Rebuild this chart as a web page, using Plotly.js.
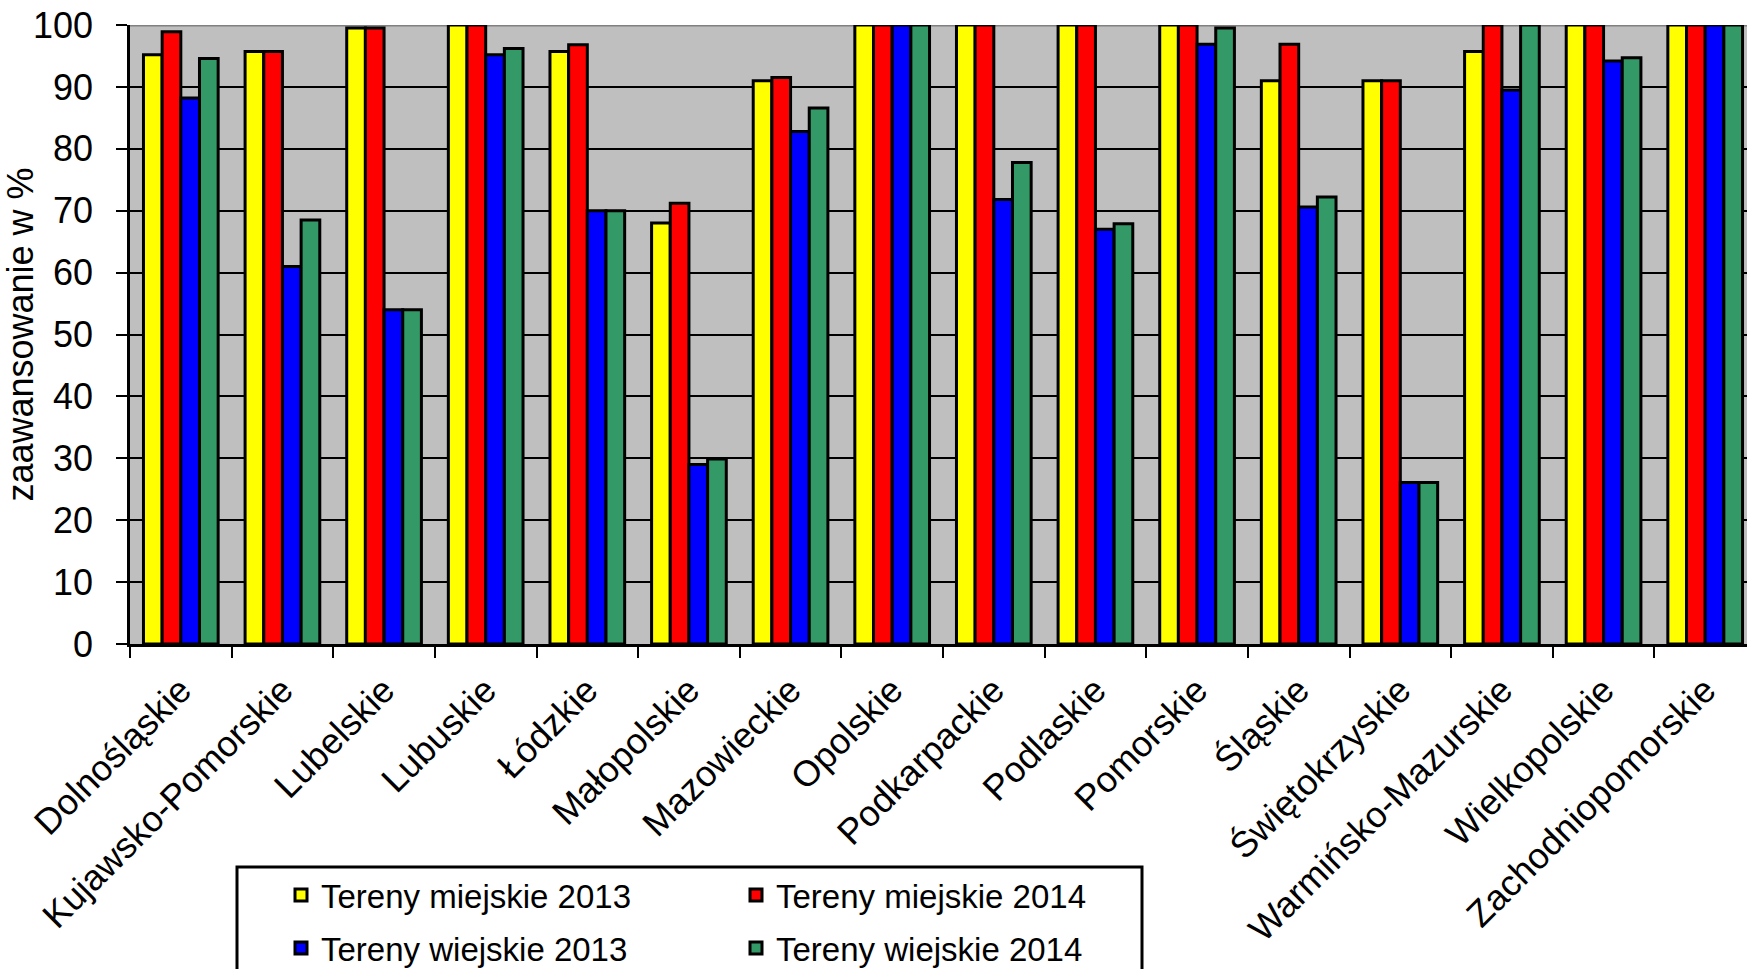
<!DOCTYPE html>
<html><head><meta charset="utf-8">
<script src="https://cdn.plot.ly/plotly-3.0.1.min.js"></script>
<style>html,body{margin:0;padding:0;overflow:hidden;background:#fff}#chart{width:1760px;height:969px}</style>
</head><body><div id="chart"></div>
<script>
const categories = ['Dolnośląskie','Kujawsko-Pomorskie','Lubelskie','Lubuskie','Łódzkie','Małopolskie','Mazowieckie','Opolskie','Podkarpackie','Podlaskie','Pomorskie','Śląskie','Świętokrzyskie','Warmińsko-Mazurskie','Wielkopolskie','Zachodniopomorskie'];
const miejskie2013 = [95.2, 95.7, 99.5, 100, 95.7, 68.0, 91.0, 100, 100, 100, 100, 91.0, 91.0, 95.7, 100, 100];
const miejskie2014 = [98.9, 95.7, 99.5, 100, 96.8, 71.2, 91.5, 100, 100, 100, 100, 96.9, 91.0, 100, 100, 100];
const wiejskie2013 = [88.2, 61.0, 54.0, 95.2, 70.0, 29.0, 82.8, 100, 71.8, 67.0, 96.9, 70.6, 26.1, 89.5, 94.2, 100];
const wiejskie2014 = [94.6, 68.5, 54.0, 96.2, 70.0, 29.9, 86.6, 100, 77.8, 67.9, 99.5, 72.2, 26.1, 100, 94.7, 100];
const seriesNames = ['Tereny miejskie 2013','Tereny miejskie 2014','Tereny wiejskie 2013','Tereny wiejskie 2014'];
const seriesColors = ['#FFFF00','#FF0000','#0000FF','#339966'];
const yTicks = [0,10,20,30,40,50,60,70,80,90,100];
const yTitle = 'zaawansowanie w %';

const FONT = 'Liberation Sans, Arial, sans-serif';
const W = 1760, H = 969;
const mL = 130, mR = 4, mT = 25, mB = 325;
const pw = W - mL - mR, ph = H - mT - mB;
const px2x = p => (p - mL) / pw;
const px2y = p => (H - mB - p) / ph;

const allSeries = [miejskie2013, miejskie2014, wiejskie2013, wiejskie2014];
const traces = allSeries.map((vals, i) => ({
  type: 'bar',
  x: categories,
  y: vals,
  name: seriesNames[i],
  legend: i < 2 ? 'legend' : 'legend2',
  marker: {color: seriesColors[i], line: {color: '#000', width: 3}},
  hoverinfo: 'x+y+name'
}));

const legendBase = {
  orientation: 'h', xanchor: 'left', yanchor: 'middle',
  entrywidth: 410, entrywidthmode: 'pixels',
  font: {family: FONT, size: 33, color: '#000'},
  bgcolor: 'rgba(0,0,0,0)', borderwidth: 0, traceorder: 'normal'
};

const layout = {
  width: W, height: H,
  margin: {l: mL, r: mR, t: mT, b: mB, autoexpand: false},
  paper_bgcolor: '#fff',
  plot_bgcolor: '#bfbfbf',
  barmode: 'group', bargap: 0.265, bargroupgap: 0,
  font: {family: FONT, color: '#000'},
  xaxis: {
    type: 'category', automargin: false,
    tickangle: -45, tickson: 'boundaries', ticks: 'outside', ticklen: 11, tickwidth: 2, tickcolor: '#000',
    showline: true, linecolor: '#000', linewidth: 2.5, showgrid: false,
    tickfont: {family: FONT, size: 36, color: '#000'}, ticklabelstandoff: 8
  },
  yaxis: {
    range: [0, 100], automargin: false, tickmode: 'array', tickvals: yTicks,
    ticks: 'outside', ticklen: 11, tickwidth: 2, tickcolor: '#000',
    showline: true, linecolor: '#000', linewidth: 2.5,
    showgrid: true, gridcolor: '#000', gridwidth: 2, zeroline: false,
    tickfont: {family: FONT, size: 36, color: '#000'}, ticklabelstandoff: 16,
    title: {text: yTitle, font: {family: FONT, size: 36, color: '#000'}, standoff: 0}
  },
  showlegend: true,
  legend: Object.assign({}, legendBase, {x: px2x(281), y: px2y(895)}),
  legend2: Object.assign({}, legendBase, {x: px2x(281), y: px2y(948)}),
  shapes: [
    {type: 'line', xref: 'paper', yref: 'y', x0: 0, x1: 1, y0: 100, y1: 100, line: {color: '#808080', width: 3}, layer: 'between'},
    {type: 'rect', xref: 'paper', yref: 'paper', x0: px2x(237), x1: px2x(1142), y0: px2y(867), y1: px2y(1010), line: {color: '#000', width: 3}, fillcolor: 'rgba(0,0,0,0)'}
  ]
};

Plotly.newPlot('chart', traces, layout, {displayModeBar: false, responsive: false});
</script>
</body></html>
